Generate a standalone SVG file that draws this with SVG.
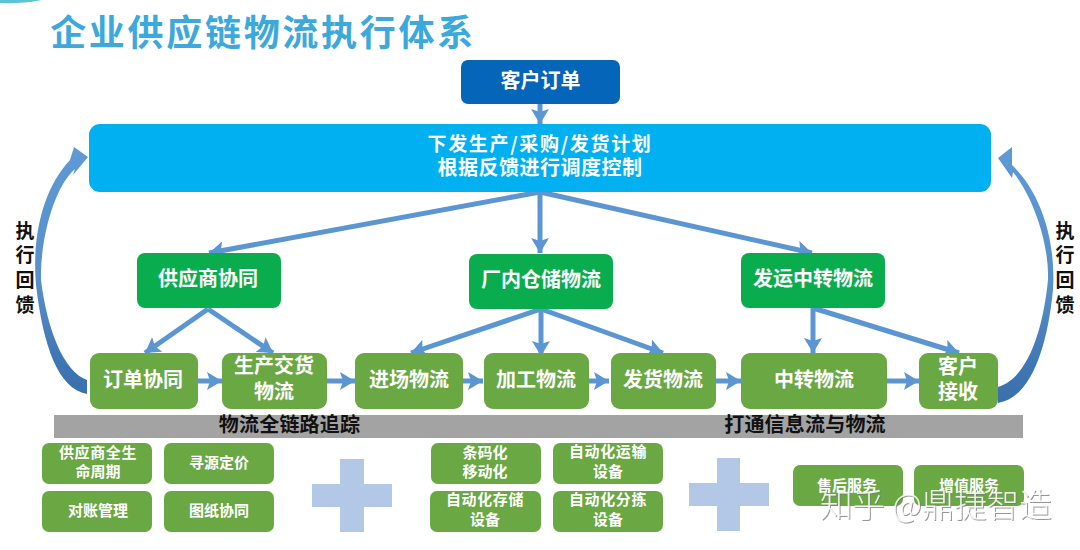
<svg xmlns="http://www.w3.org/2000/svg" width="1080" height="550" viewBox="0 0 1080 550">
<style>
text{font-family:"Noto Sans CJK SC","Noto Sans",sans-serif;text-anchor:middle}
.w{fill:#fff;font-weight:700;font-size:20px}
.s{fill:#fff;font-weight:700;font-size:15px}
.k{fill:#111;font-weight:700;font-size:19px}
.b{fill:#111;font-weight:700;font-size:20px;letter-spacing:.2px}
.g{fill:#6AA843}
.h{fill:#09AD4D}
.c{stroke:#5B96D3;stroke-width:5;fill:none;marker-end:url(#a)}
.p{fill:#B2C8E6}
</style>
<defs>
<marker id="a" markerUnits="userSpaceOnUse" markerWidth="18" markerHeight="20" refX="15" refY="9" orient="auto"><path d="M0,0L15,9L0,18L3,9Z" fill="#5B96D3"/></marker>
<linearGradient id="f" x1="0" y1="0" x2="0" y2="1"><stop offset="0" stop-color="#5E9AD6"/><stop offset=".55" stop-color="#578FCA"/><stop offset=".85" stop-color="#3F77B4"/><stop offset="1" stop-color="#3A70AC"/></linearGradient>
<filter id="sh" x="-5%" y="-20%" width="110%" height="140%"><feDropShadow dx="1" dy="1" stdDeviation=".6" flood-color="#777" flood-opacity=".9"/></filter>
</defs>
<rect width="1080" height="550" fill="#fff"/>
<path d="M0,0H42Q20,4 0,3Z" fill="#5CC3D6"/>
<text id="title" x="263" y="46" style="font-size:36px;font-weight:700;letter-spacing:2.7px;fill:#3CA9DD">企业供应链物流执行体系</text>
<g id="connectors">
<path class="c" d="M540,104V124"/>
<path class="c" d="M540,192L209,253"/>
<path class="c" d="M540,192V253"/>
<path class="c" d="M540,192L812,253"/>
<path class="c" d="M208,309L145,353"/>
<path class="c" d="M208,309L273,353"/>
<path class="c" d="M541,309L411,353"/>
<path class="c" d="M541,309V356"/>
<path class="c" d="M541,309L663,353"/>
<path class="c" d="M813,308V353"/>
<path class="c" d="M813,308L959,353"/>
<path class="c" d="M195,381H222"/>
<path class="c" d="M327,381H355"/>
<path class="c" d="M463,381H483"/>
<path class="c" d="M589,381H609"/>
<path class="c" d="M716,381H741"/>
<path class="c" d="M887,381H919"/>
<path d="M87,394C58,389 43,345 36,285C32,238 42,190 70,160L74,147L88,157L73,175L75,169C54,187 40,240 41,280C47,330 64,372 87,380Z" fill="url(#f)"/>
<path d="M998,403C1030,398 1047,350 1053,290C1056,240 1041,193 1012,165L1012,147L998,158L1012,178L1013,172C1032,196 1049,240 1048,280C1043,330 1028,378 998,387Z" fill="url(#f)"/>
</g>
<g id="n-order"><rect x="461" y="60" width="159" height="44" rx="7" fill="#0565B9"/><text class="w" x="540.500" y="88">客户订单</text></g>
<g id="n-plan"><rect x="89" y="124" width="902" height="68" rx="11" fill="#00B0F0"/><text class="w" x="540" y="151" style="font-size:19px;letter-spacing:1.700px">下发生产/采购/发货计划</text><text class="w" x="540" y="175" style="font-size:20px;letter-spacing:.5px">根据反馈进行调度控制</text></g>
<g id="n-supplier"><rect class="h" x="137" y="253" width="144" height="55" rx="8"/><text class="w" x="208" y="286">供应商协同</text></g>
<g id="n-warehouse"><rect class="h" x="469" y="254" width="144" height="55" rx="8"/><text class="w" x="541" y="287">厂内仓储物流</text></g>
<g id="n-transit-head"><rect class="h" x="741" y="253" width="144" height="55" rx="8"/><text class="w" x="813" y="286">发运中转物流</text></g>
<g id="n-r1"><rect class="g" x="90" y="353" width="108" height="56" rx="9"/><text class="w" x="143" y="387">订单协同</text></g>
<g id="n-r2"><rect class="g" x="222" y="353" width="105" height="56" rx="9"/><text class="w" x="274" y="373">生产交货</text><text class="w" x="274" y="399">物流</text></g>
<g id="n-r3"><rect class="g" x="355" y="353" width="108" height="56" rx="9"/><text class="w" x="409" y="387">进场物流</text></g>
<g id="n-r4"><rect class="g" x="484" y="353" width="105" height="56" rx="9"/><text class="w" x="536" y="387">加工物流</text></g>
<g id="n-r5"><rect class="g" x="611" y="353" width="105" height="56" rx="9"/><text class="w" x="663" y="387">发货物流</text></g>
<g id="n-r6"><rect class="g" x="741" y="353" width="146" height="56" rx="9"/><text class="w" x="814" y="387">中转物流</text></g>
<g id="n-r7"><rect class="g" x="919" y="353" width="79" height="56" rx="9"/><text class="w" x="958" y="374">客户</text><text class="w" x="958" y="399">接收</text></g>
<g id="n-bar"><rect x="54" y="415" width="969" height="23" fill="#A3A3A3"/><text class="b" x="289.500" y="432">物流全链路追踪</text><text class="b" x="805" y="432">打通信息流与物流</text></g>
<g id="n-s1"><rect class="g" x="42" y="443" width="110" height="41" rx="7"/><text class="s" x="98" y="458" style="letter-spacing:.6px">供应商全生</text><text class="s" x="98" y="477">命周期</text></g>
<g id="n-s2"><rect class="g" x="164" y="443" width="110" height="41" rx="7"/><text class="s" x="219" y="468">寻源定价</text></g>
<g id="n-s3"><rect class="g" x="42" y="491" width="110" height="41" rx="7"/><text class="s" x="98" y="516">对账管理</text></g>
<g id="n-s4"><rect class="g" x="164" y="491" width="110" height="41" rx="7"/><text class="s" x="219" y="516">图纸协同</text></g>
<g id="n-s5"><rect class="g" x="431" y="443" width="110" height="41" rx="7"/><text class="s" x="485" y="458">条码化</text><text class="s" x="485" y="477">移动化</text></g>
<g id="n-s6"><rect class="g" x="553" y="443" width="110" height="41" rx="7"/><text class="s" x="608" y="457" style="letter-spacing:.6px">自动化运输</text><text class="s" x="608" y="477">设备</text></g>
<g id="n-s7"><rect class="g" x="430" y="491" width="111" height="41" rx="7"/><text class="s" x="485" y="505" style="letter-spacing:.6px">自动化存储</text><text class="s" x="485" y="525">设备</text></g>
<g id="n-s8"><rect class="g" x="553" y="491" width="110" height="41" rx="7"/><text class="s" x="608" y="505" style="letter-spacing:.6px">自动化分拣</text><text class="s" x="608" y="525">设备</text></g>
<g id="n-s9"><rect class="g" x="793" y="465" width="110" height="41" rx="7"/><text class="s" x="847" y="491">售后服务</text></g>
<g id="n-s10"><rect class="g" x="914" y="465" width="110" height="41" rx="7"/><text class="s" x="969" y="491">增值服务</text></g>
<g id="plus1"><path class="p" d="M340,459H364V484H392V507H364V532H340V507H312V484H340Z"/></g>
<g id="plus2"><path class="p" d="M717,458H740V483H769V506H740V531H717V506H689V483H717Z"/></g>
<g id="label-left"><text class="k" x="25" y="238">执</text><text class="k" x="25" y="262">行</text><text class="k" x="25" y="287">回</text><text class="k" x="25" y="312">馈</text></g>
<g id="label-right"><text class="k" x="1065" y="238">执</text><text class="k" x="1065" y="262">行</text><text class="k" x="1065" y="287">回</text><text class="k" x="1065" y="312">馈</text></g>
<text id="watermark" x="936" y="517" filter="url(#sh)" style="font-size:32.500px;font-weight:300;fill:#fff;fill-opacity:.85">知乎 @鼎捷智造</text>
</svg>
